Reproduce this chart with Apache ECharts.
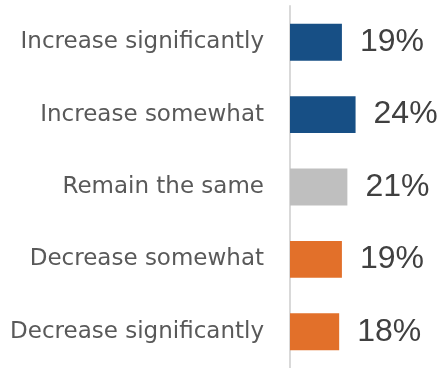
<!DOCTYPE html>
<html><head><meta charset="utf-8">
<script src="https://cdn.jsdelivr.net/npm/echarts@6/dist/echarts.min.js"></script>
<style>html,body{margin:0;padding:0;background:#fff}#c{width:444px;height:368px}</style>
</head><body><div id="c"></div>
<script>
const categories = ["Increase significantly","Increase somewhat","Remain the same","Decrease somewhat","Decrease significantly"];
const values = [19, 24, 21, 19, 18];
const colors = ["#174F85","#174F85","#BFBFBF","#E2702A","#E2702A"];

const chart = echarts.init(document.getElementById('c'), null, {renderer:'canvas'});
chart.setOption({
  animation:false,
  grid:{left:290, top:6, width:153, height:365, containLabel:false},
  xAxis:{type:'value', min:0, max:56, show:false},
  yAxis:{type:'category', inverse:true, data:categories,
    axisLine:{show:true, lineStyle:{color:'#D9D9D9', width:2}},
    axisTick:{show:false},
    axisLabel:{margin:26, color:'#595959', fontSize:23, fontFamily:'DejaVu Sans, sans-serif'}},
  series:[{type:'bar', barCategoryGap:'49%',
    data: values.map((v,i)=>({value:v, itemStyle:{color:colors[i]}})),
    label:{show:true, position:'right', distance:18, formatter:'{c}%', color:'#404040', fontSize:32, fontFamily:'Liberation Sans, Arial, sans-serif'}
  }]
});
</script></body></html>
